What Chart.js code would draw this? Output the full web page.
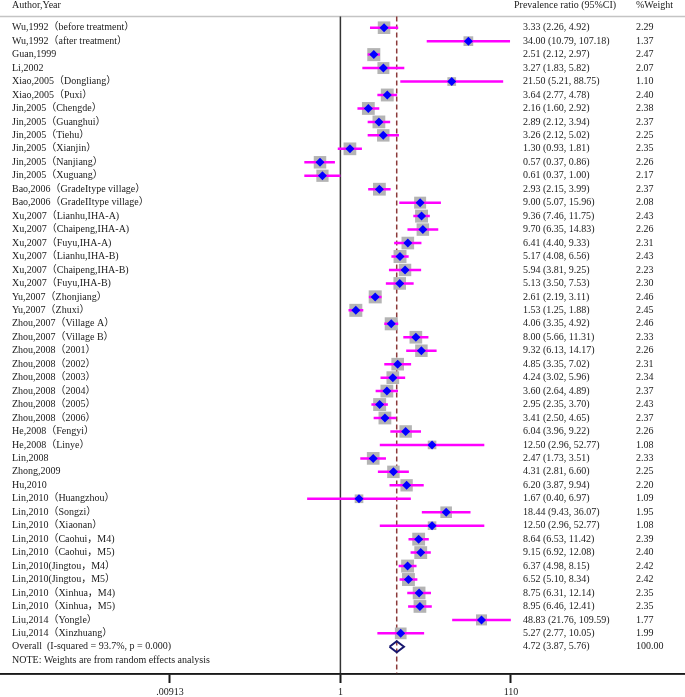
<!DOCTYPE html>
<html>
<head>
<meta charset="utf-8">
<title>Forest plot</title>
<script src="https://cdn.jsdelivr.net/npm/chart.js@4.4.1/dist/chart.umd.min.js"></script>
<style>
  body { margin: 0; background: #fff; }
  canvas { display: block; }
</style>
</head>
<body>
<canvas id="forestChart" width="685" height="697"></canvas>
<script>
const studies = [
    "Wu,1992（before treatment）", "Wu,1992（after treatment）", "Guan,1999", "Li,2002",
    "Xiao,2005（Dongliang）", "Xiao,2005（Puxi）", "Jin,2005（Chengde）", "Jin,2005（Guanghui）",
    "Jin,2005（Tiehu）", "Jin,2005（Xianjin）", "Jin,2005（Nanjiang）", "Jin,2005（Xuguang）",
    "Bao,2006（GradeItype village）", "Bao,2006（GradeIItype village）",
    "Xu,2007（Lianhu,IHA-A)", "Xu,2007（Chaipeng,IHA-A)", "Xu,2007（Fuyu,IHA-A)",
    "Xu,2007（Lianhu,IHA-B)", "Xu,2007（Chaipeng,IHA-B)", "Xu,2007（Fuyu,IHA-B)",
    "Yu,2007（Zhonjiang）", "Yu,2007（Zhuxi）", "Zhou,2007（Village A）", "Zhou,2007（Village B）",
    "Zhou,2008（2001）", "Zhou,2008（2002）", "Zhou,2008（2003）", "Zhou,2008（2004）",
    "Zhou,2008（2005）", "Zhou,2008（2006）", "He,2008（Fengyi）", "He,2008（Linye）",
    "Lin,2008", "Zhong,2009", "Hu,2010", "Lin,2010（Huangzhou）", "Lin,2010（Songzi）",
    "Lin,2010（Xiaonan）", "Lin,2010（Caohui，M4)", "Lin,2010（Caohui，M5)",
    "Lin,2010(Jingtou，M4）", "Lin,2010(Jingtou，M5）", "Lin,2010（Xinhua，M4)",
    "Lin,2010（Xinhua，M5)", "Liu,2014（Yongle）", "Liu,2014（Xinzhuang）"
];
const ratio = [3.33, 34.00, 2.51, 3.27, 21.50, 3.64, 2.16, 2.89, 3.26, 1.30, 0.57, 0.61, 2.93, 9.00,
    9.36, 9.70, 6.41, 5.17, 5.94, 5.13, 2.61, 1.53, 4.06, 8.00, 9.32, 4.85, 4.24, 3.60, 2.95, 3.41,
    6.04, 12.50, 2.47, 4.31, 6.20, 1.67, 18.44, 12.50, 8.64, 9.15, 6.37, 6.52, 8.75, 8.95, 48.83, 5.27];
const lower = [2.26, 10.79, 2.12, 1.83, 5.21, 2.77, 1.60, 2.12, 2.12, 0.93, 0.37, 0.37, 2.15, 5.07,
    7.46, 6.35, 4.40, 4.08, 3.81, 3.50, 2.19, 1.25, 3.35, 5.66, 6.13, 3.35, 3.02, 2.64, 2.35, 2.50,
    3.96, 2.96, 1.73, 2.81, 3.87, 0.40, 9.43, 2.96, 6.53, 6.92, 4.98, 5.10, 6.31, 6.46, 21.76, 2.77];
const upper = [4.92, 107.18, 2.97, 5.82, 88.75, 4.78, 2.92, 3.94, 5.02, 1.81, 0.86, 1.00, 3.99, 15.96,
    11.75, 14.83, 9.33, 6.56, 9.25, 7.53, 3.11, 1.88, 4.92, 11.31, 14.17, 7.02, 5.96, 4.89, 3.70, 4.65,
    9.22, 52.77, 3.51, 6.60, 9.94, 6.97, 36.07, 52.77, 11.42, 12.08, 8.15, 8.34, 12.14, 12.41, 109.59, 10.05];
const weights = [2.29, 1.37, 2.47, 2.07, 1.10, 2.40, 2.38, 2.37, 2.25, 2.35, 2.26, 2.17, 2.37, 2.08,
    2.43, 2.26, 2.31, 2.43, 2.23, 2.30, 2.46, 2.45, 2.46, 2.33, 2.26, 2.31, 2.34, 2.37, 2.43, 2.37,
    2.26, 1.08, 2.33, 2.25, 2.20, 1.09, 1.95, 1.08, 2.39, 2.40, 2.42, 2.42, 2.35, 2.35, 1.77, 1.99];

const overallLabel = "Overall  (I-squared = 93.7%, p = 0.000)";
const overall = { ratio: 4.72, lower: 3.87, upper: 5.76, weight: 100.00 };

const tickValues = [0.00913, 1, 110];
const tickLabels = [".00913", "1", "110"];

const noteText = "NOTE: Weights are from random effects analysis";

// axis limits so that the plot region covers the whole picture width
const xMin = 8.44e-5;
const xMax = 13305;
const yMin = -2.058;
const yMax = 48.02;
const headerRow = -0.83;

const textFont = "10px 'Liberation Serif', 'Times New Roman', 'Noto Sans CJK SC', serif";
const textColor = "#1a1a1a";

const ciData = [];
ratio.forEach((r, i) => {
    ciData.push({ x: lower[i], y: i });
    ciData.push({ x: upper[i], y: i });
    ciData.push({ x: upper[i], y: null });
});

const oRow = studies.length;
const diamondData = [
    { x: overall.lower, y: oRow },
    { x: overall.ratio, y: oRow - 0.41 },
    { x: overall.upper, y: oRow },
    { x: overall.ratio, y: oRow + 0.41 },
    { x: overall.lower, y: oRow }
];

const fmt = v => v.toFixed(2);

const textPlugin = {
    id: 'forestText',
    afterDatasetsDraw(chart) {
        const ctx = chart.ctx;
        const y = chart.scales.y;
        ctx.save();
        ctx.font = textFont;
        ctx.fillStyle = textColor;
        ctx.textBaseline = 'middle';
        ctx.textAlign = 'left';
        const hy = y.getPixelForValue(-1.69);
        ctx.fillText("Author,Year", 12, hy);
        ctx.fillText("Prevalence ratio (95%CI)", 514, hy);
        ctx.fillText("%Weight", 636, hy);
        studies.forEach((s, i) => {
            const py = y.getPixelForValue(i);
            ctx.fillText(s, 12, py);
            ctx.fillText(`${fmt(ratio[i])} (${fmt(lower[i])}, ${fmt(upper[i])})`, 523, py);
            ctx.fillText(fmt(weights[i]), 636, py);
        });
        const oy = y.getPixelForValue(oRow);
        ctx.fillText(overallLabel, 12, oy);
        ctx.fillText(`${fmt(overall.ratio)} (${fmt(overall.lower)}, ${fmt(overall.upper)})`, 523, oy);
        ctx.fillText(fmt(overall.weight), 636, oy);
        ctx.fillText(noteText, 12, y.getPixelForValue(oRow + 1));
        ctx.restore();
    },
    afterDraw(chart) {
        // x axis baseline across the whole plot region
        const ctx = chart.ctx;
        const x = chart.scales.x;
        const base = chart.scales.y.getPixelForValue(yMax);
        ctx.save();
        ctx.strokeStyle = '#1a1a1a';
        ctx.lineWidth = 1.5;
        ctx.beginPath();
        ctx.moveTo(x.getPixelForValue(xMin), base);
        ctx.lineTo(x.getPixelForValue(xMax), base);
        ctx.stroke();
        ctx.restore();
    }
};

const ctx = document.getElementById("forestChart").getContext("2d");
new Chart(ctx, {
    type: "scatter",
    data: {
        datasets: [
            {
                // point estimates
                data: ratio.map((r, i) => ({ x: r, y: i })),
                pointStyle: 'rectRot',
                pointRadius: 4.5,
                backgroundColor: '#0000ff',
                borderWidth: 0
            },
            {
                // confidence intervals
                data: ciData,
                showLine: true,
                spanGaps: false,
                pointRadius: 0,
                borderColor: '#ff00ff',
                borderWidth: 2.5
            },
            {
                // weight boxes
                data: ratio.map((r, i) => ({ x: r, y: i })),
                pointStyle: 'rect',
                pointRadius: weights.map(w => 5.87 * Math.sqrt(w)),
                backgroundColor: '#b4b4b4',
                borderWidth: 0
            },
            {
                // overall diamond
                data: diamondData,
                showLine: true,
                pointRadius: 0,
                borderColor: '#16166e',
                borderWidth: 2,
                borderJoinStyle: 'miter'
            },
            {
                // overall effect line
                data: [{ x: overall.ratio, y: headerRow }, { x: overall.ratio, y: yMax }],
                showLine: true,
                pointRadius: 0,
                borderColor: '#8b3a3a',
                borderWidth: 1.5,
                borderDash: [5, 3]
            },
            {
                // no effect line
                data: [{ x: 1, y: headerRow }, { x: 1, y: yMax }],
                showLine: true,
                pointRadius: 0,
                borderColor: '#333333',
                borderWidth: 1.5
            },
            {
                // header rule
                data: [{ x: xMin, y: headerRow }, { x: xMax, y: headerRow }],
                showLine: true,
                pointRadius: 0,
                borderColor: '#c4c4c4',
                borderWidth: 1.5
            }
        ]
    },
    options: {
        responsive: false,
        animation: false,
        events: [],
        layout: { padding: 0, autoPadding: false },
        plugins: {
            legend: { display: false },
            tooltip: { enabled: false }
        },
        scales: {
            x: {
                type: 'logarithmic',
                position: 'bottom',
                min: xMin,
                max: xMax,
                bounds: 'data',
                afterBuildTicks: scale => {
                    scale.ticks = tickValues.map(v => ({ value: v }));
                },
                afterFit: scale => {
                    scale.height = 23;
                },
                grid: {
                    drawOnChartArea: false,
                    drawTicks: true,
                    tickLength: 9,
                    tickWidth: 2,
                    tickColor: '#1a1a1a'
                },
                border: { display: true, color: '#1a1a1a', width: 1.5 },
                ticks: {
                    autoSkip: false,
                    maxRotation: 0,
                    padding: 3,
                    color: textColor,
                    font: { family: "'Liberation Serif', 'Times New Roman', serif", size: 10 },
                    callback: (value, index) => tickLabels[index]
                }
            },
            y: {
                type: 'linear',
                reverse: true,
                min: yMin,
                max: yMax,
                display: false
            }
        }
    },
    plugins: [textPlugin]
});
</script>
</body>
</html>
